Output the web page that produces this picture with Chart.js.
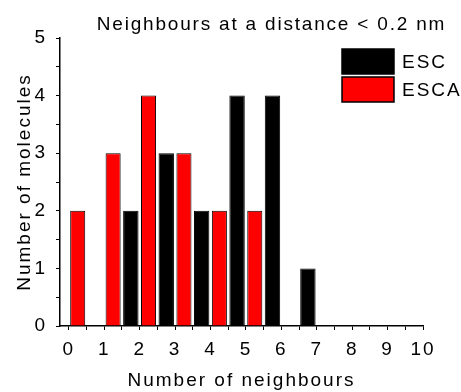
<!DOCTYPE html>
<html>
<head>
<meta charset="utf-8">
<script src="https://cdn.jsdelivr.net/npm/chart.js@4/dist/chart.umd.min.js"></script>
<style>
html,body{margin:0;padding:0;background:#fff;}
#wrap{width:461px;height:392px;position:relative;}
</style>
</head>
<body>
<div id="wrap"><canvas id="c"></canvas></div>
<script>
// ---- data ----
const titleText = 'Neighbours at a distance < 0.2 nm';
const xTitle = 'Number of neighbours';
const yTitle = 'Number of molecules';
const seriesNames = ['ESC', 'ESCA'];
// bin centres (bins are half a neighbour wide)
const escBins = [1.75, 2.75, 3.75, 4.75, 5.75, 6.75];
const escCounts = [2, 3, 2, 4, 4, 1];
const escaBins = [0.25, 1.25, 2.25, 3.25, 4.25, 5.25];
const escaCounts = [2, 3, 4, 3, 2, 2];
const xTickLabels = ['0','1','2','3','4','5','6','7','8','9','10'];
const yTickLabels = ['0','1','2','3','4','5'];

const FONT = "'Liberation Sans', Arial, sans-serif";
const SPACING = '2px';
Chart.defaults.font.family = FONT;
Chart.defaults.color = '#000';

function withMinor(labels) {
  const major = labels.map(Number);
  const out = [];
  major.forEach((v, i) => {
    out.push({value: v});
    if (i < major.length - 1) out.push({value: (v + major[i + 1]) / 2});
  });
  return out;
}
function labelFor(labels) {
  return (v) => {
    const s = labels.find(l => Number(l) === v);
    return s === undefined ? '' : s;
  };
}

const spacingPlugin = {
  id: 'spacing',
  beforeLayout(chart) { chart.ctx.letterSpacing = SPACING; },
  beforeDraw(chart) { chart.ctx.letterSpacing = SPACING; }
};

const decorPlugin = {
  id: 'decor',
  afterDraw(chart) {
    const ctx = chart.ctx;
    const ca = chart.chartArea;
    ctx.save();
    // title
    ctx.letterSpacing = '1.8px';
    ctx.fillStyle = '#000';
    ctx.font = '19px ' + FONT;
    ctx.textAlign = 'center';
    ctx.textBaseline = 'middle';
    ctx.fillText(titleText, (ca.left + ca.right) / 2 + 30, 25);
    // legend
    ctx.letterSpacing = SPACING;
    const bx = ca.right - 81, bw = 52, bh = 25;
    chart.data.datasets.forEach((ds, i) => {
      const by = ca.top + 11 + i * 28;
      ctx.fillStyle = ds.backgroundColor;
      ctx.strokeStyle = '#000';
      ctx.lineWidth = 1.5;
      ctx.fillRect(bx, by, bw, bh);
      ctx.strokeRect(bx, by, bw, bh);
      ctx.fillStyle = '#000';
      ctx.font = '19px ' + FONT;
      ctx.textAlign = 'left';
      ctx.fillText(ds.label, bx + bw + 8, by + bh / 2 + 1);
    });
    ctx.restore();
  }
};

new Chart(document.getElementById('c'), {
  type: 'bar',
  data: {
    datasets: [
      {
        label: seriesNames[0],
        data: escBins.map((x, i) => ({x: x, y: escCounts[i]})),
        backgroundColor: '#000000',
        borderColor: '#000000',
        borderWidth: 1,
        grouped: false,
        barPercentage: 0.87,
        categoryPercentage: 1
      },
      {
        label: seriesNames[1],
        data: escaBins.map((x, i) => ({x: x, y: escaCounts[i]})),
        backgroundColor: '#ff0000',
        borderColor: '#000000',
        borderWidth: 1,
        grouped: false,
        barPercentage: 0.85,
        categoryPercentage: 1
      }
    ]
  },
  options: {
    responsive: true,
    maintainAspectRatio: false,
    animation: false,
    layout: {padding: {top: 38, right: 38, left: 0, bottom: 0}},
    plugins: {legend: {display: false}, title: {display: false}, tooltip: {enabled: false}},
    scales: {
      x: {
        type: 'linear',
        min: -0.25,
        max: 10,
        offset: false,
        afterBuildTicks: (s) => { s.ticks = withMinor(xTickLabels); },
        afterFit: (s) => { s.height = 66; },
        ticks: {autoSkip: false, maxRotation: 0, padding: 8, font: {size: 19}, callback: labelFor(xTickLabels)},
        grid: {drawOnChartArea: false, drawTicks: true, tickLength: 4, tickColor: '#000', offset: false},
        border: {display: true, color: '#000', width: 1.5},
        title: {display: true, text: xTitle, font: {size: 19}, padding: {top: 4, bottom: 0}}
      },
      y: {
        min: 0,
        max: 5,
        afterBuildTicks: (s) => { s.ticks = withMinor(yTickLabels); },
        afterFit: (s) => { s.width = 60; },
        ticks: {autoSkip: false, padding: 9, font: {size: 19}, callback: labelFor(yTickLabels)},
        grid: {drawOnChartArea: false, drawTicks: true, tickLength: 4, tickColor: '#000'},
        border: {display: true, color: '#000', width: 1.5},
        title: {display: true, text: yTitle, font: {size: 19}, padding: {top: 13, bottom: 0}}
      }
    }
  },
  plugins: [spacingPlugin, decorPlugin]
});
</script>
</body>
</html>
